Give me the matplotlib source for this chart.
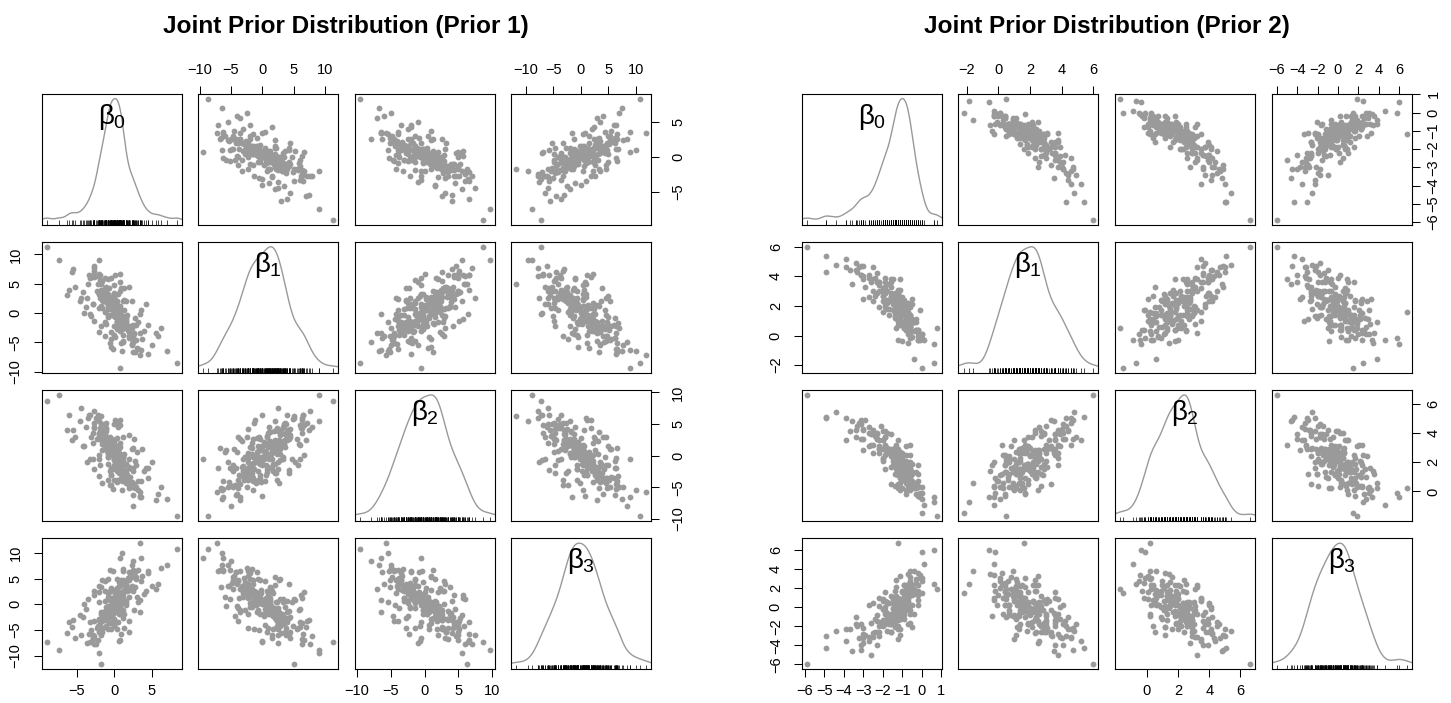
import numpy as np
import matplotlib.pyplot as plt

plt.rcParams['font.family'] = ['Liberation Sans', 'DejaVu Sans']
plt.rcParams['mathtext.fontset'] = 'custom'
plt.rcParams['mathtext.rm'] = 'Liberation Sans'
plt.rcParams['mathtext.it'] = 'Liberation Sans'

# Prior 1 draws (values estimated from the scatter panels)
p1_b0 = [0.3, 0.9, -1.9, 1.0, -1.7, -0.8, 0.4, 0.8, 2.6, -1.8,
         1.5, 0.1, -0.4, -0.4, -2.2, 0.6, -1.8, 2.5, -0.5, 0.0,
         -2.1, 2.5, -0.4, 3.2, 0.6, -1.3, -0.5, -2.2, 1.5, 0.3,
         -0.1, -0.6, 1.1, 0.0, 1.1, -0.9, -3.4, 1.3, -0.6, 1.1,
         -1.7, 1.5, -0.4, -1.3, -1.1, -0.1, 2.5, -0.3, 0.6, -2.8,
         1.1, -0.9, 1.1, -0.5, 1.0, -0.1, 0.5, -2.0, 0.4, -1.8,
         2.0, 0.2, -0.8, -0.5, -1.9, 2.0, 0.1, 0.6, 0.2, 2.9,
         -1.1, 0.8, -1.1, 0.3, 0.6, -2.7, 0.8, -1.2, 1.1, -0.8,
         0.6, -1.1, 2.3, -1.1, -0.3, -0.2, -2.3, 2.3, -0.6, 2.1,
         -2.5, 1.2, -0.2, 1.1, -0.2, 2.4, -1.8, -0.8, 0.4, 1.8,
         -0.7, 0.4, -0.5, -1.3, 0.0, -0.1, 2.0, -1.5, 0.4, 1.5,
         -0.8, 0.4, -0.8, 0.6, -1.6, 0.5, 0.2, 1.7, -1.4, 0.1,
         -2.0, 0.8, 0.1, -2.7, 0.4, -1.0, 0.4, 3.6, -0.9, 0.6,
         -0.3, 1.7, 0.0, -1.1, 1.1, -0.3, 1.8, -0.7, 0.1, -1.1,
         1.1, -0.8, 1.5, -0.5, -0.1, -1.3, 1.5, -0.8, 0.9, -0.4,
         -9.0, 8.3, -7.4, 3.4, -1.8, 0.7, 7.0, -5.5, 5.5, -4.5, 4.5, -2.0, 2.5, -6.0, 1.0,
         1.1, -0.9, 0.8, -0.4, 1.9, -2.7, 2.4, -3.2, -1.7, 0.6,
         2.5, -1.9, -0.6, 0.1, -1.8, 3.4, 0.4, -1.6, 1.3, -0.4,
         2.0, -2.0, -0.5, 0.5, -2.7, 2.0, -1.2, 0.7, -0.2, 0.9,
         -0.8, 0.8, 1.3, -2.8, 2.7, -2.0, -2.1, 2.6, 0.5, 0.0,
         -1.4, 1.3, 0.7, -0.6, -0.1, 0.1, -0.9, 0.9, 1.2, -1.2,
         -1.7, 1.7, -1.3, 1.3, -0.8, 0.8, -2.7, 2.7, 0.1, -0.1,
         4.0, -4.2, 3.5, -3.8, 5.0, -5.2, 3.2, -3.3, 4.5, -4.6, 3.0, -3.1,
         5.8, -5.6, 3.7, -3.6, 4.2, -4.0, 3.4, -3.5, 6.2, -6.3, 2.9, -2.9]
p1_b1 = [-0.8, -1.5, 2.5, -2.8, 5.5, 1.7, -0.7, 3.7, -3.5, 1.0,
         -0.7, 0.9, 1.7, -3.3, 6.5, 0.8, 1.2, -4.7, 6.0, 0.5,
         0.8, -2.0, 2.5, -6.2, -2.2, 4.0, 1.0, 4.9, -1.0, -0.9,
         -0.2, 2.8, -1.7, 2.7, -3.7, 3.3, 6.5, 0.5, 0.7, -4.9,
         2.2, 2.0, -0.4, 4.2, -1.9, 2.9, -4.2, -0.4, -0.4, 6.4,
         -2.2, 0.6, -1.9, 1.4, -1.4, 3.4, -1.5, 3.3, -2.3, 3.8,
         -3.1, 1.0, 2.5, 0.6, 6.4, -3.9, 2.2, -2.8, 0.5, -4.6,
         4.5, 0.1, 1.9, -0.2, -1.7, 8.0, 1.2, 0.2, -4.7, 2.8,
         -1.1, 3.6, -5.3, 2.4, 1.6, 0.8, 3.8, -2.6, 1.3, -2.2,
         6.3, -0.5, 1.2, -0.6, 2.3, -5.4, 4.0, -0.7, 2.0, -2.2,
         4.2, -1.5, 1.0, 6.0, -2.2, 3.3, -4.2, 2.1, 0.0, -1.4,
         3.1, 1.4, 1.0, -2.2, 3.7, -0.6, 0.0, -2.8, 3.0, -0.7,
         3.2, -3.0, 1.2, 7.7, -2.8, 1.8, -1.6, -6.3, 2.3, -0.1,
         1.9, -2.3, 1.9, 2.3, -1.0, 0.6, -2.9, 2.6, 0.7, 3.6,
         -1.0, 0.9, -1.6, 2.2, 0.2, 3.6, -2.3, 1.4, -0.6, 1.5,
         11.3, -8.6, 9.0, -7.2, 5.0, -9.4, -6.5, 7.5, -3.5, 2.5, -7.0, 9.0, -5.0, 4.0, -6.5,
         -2.5, 2.4, 5.3, -5.8, 4.5, -1.3, 2.0, -0.1, 2.6, 0.0,
         -6.7, 5.7, -5.1, 6.4, -2.2, -0.1, -1.3, 3.5, 4.2, -4.4,
         -3.2, 3.6, 1.7, -0.9, 6.2, -3.9, -3.9, 6.6, -6.2, 4.3,
         2.9, -1.1, 2.2, 1.5, -0.9, -3.2, 6.6, -3.6, 3.3, -3.8,
         2.5, -2.1, -1.6, 1.7, 4.7, -4.1, 5.8, -5.2, 2.1, -1.5,
         0.9, -0.3, 2.8, -2.2, -0.3, 0.9, 7.2, -6.6, 0.0, 0.6,
         -3.0, 3.5, 0.5, 1.0, -5.5, 4.5, -1.5, 6.0, -2.0, 2.0, -6.0, -0.5,
         -4.0, 7.0, -4.5, 2.5, 1.5, 0.0, -3.5, 5.0, -2.5, 3.0, -2.0, 1.5]
p1_b2 = [2.8, -3.5, 3.9, -0.3, 2.6, -1.4, -3.9, 1.3, -4.5, 3.7,
         -2.4, -1.8, 0.6, 2.3, 6.5, -2.6, 3.8, -2.4, 1.7, 0.7,
         3.1, -2.0, -2.2, -4.0, 0.4, 4.0, -1.9, 5.8, -4.4, 0.6,
         0.9, 1.0, -3.2, 2.5, -3.1, -0.2, 6.5, 0.3, 2.9, -2.2,
         0.9, -1.4, -3.1, 3.4, 1.4, -0.7, -6.3, 2.6, -1.3, 3.5,
         -0.4, 1.7, -1.4, 1.9, -4.0, 5.0, -1.1, -0.6, -1.0, 5.0,
         -0.5, -0.6, 1.8, -3.1, 4.3, -5.2, 1.6, -0.2, 0.3, -4.9,
         4.2, -0.3, 3.9, -4.2, 1.2, 4.6, 0.1, 2.2, -1.5, 0.2,
         -1.0, 5.2, -4.1, 1.3, 1.6, -2.2, 2.7, -2.1, 0.1, -3.4,
         5.9, -1.1, 2.3, -0.3, 0.2, -5.0, 2.4, 1.5, 0.8, -3.9,
         2.7, -0.2, 2.2, 4.9, -2.0, 2.3, -2.0, 2.4, 0.9, -1.4,
         1.6, 0.2, 2.1, -2.8, 5.0, 0.7, -1.3, -3.1, 1.6, -0.7,
         3.5, -1.6, -0.3, 7.0, -2.5, 0.8, 0.2, -6.5, 2.2, -1.5,
         1.1, -3.0, 1.5, 4.3, -0.9, 0.5, -3.8, 1.8, -0.3, 2.4,
         -0.1, 1.3, -2.7, 1.7, -0.6, 2.5, -3.5, 1.5, -0.9, 0.9,
         8.6, -9.6, 9.6, -5.7, 6.2, -0.6, -6.8, 4.0, -7.0, 7.5, -2.0, 5.5, -8.0, 6.5, -5.5,
         3.0, -3.9, -1.0, 0.9, 3.2, -2.2, 1.0, 6.4, -4.3, -0.7,
         1.2, -1.5, -4.6, 5.6, 4.2, -6.4, 5.1, 1.8, -2.8, -4.7,
         -1.8, 3.4, 0.6, -0.8, 4.4, -4.6, 2.9, 4.9, -5.3, -2.3,
         1.5, 5.6, -2.8, -0.5, -0.8, -3.2, 0.1, 2.6, 4.6, -3.8,
         2.3, -2.3, 2.0, -2.4, -0.6, 0.6, 1.9, -1.9, -2.7, 2.7,
         3.5, -3.5, 3.3, -3.3, -0.3, 0.3, 5.1, -5.1, 1.5, -1.5,
         -2.5, 1.5, -4.0, 4.5, -1.0, 3.0, -5.5, -0.5, -3.5, 5.5, 0.5, 3.0,
         -6.0, 2.5, 1.0, -1.0, -2.0, 1.5, -6.5, 6.0, -5.0, 4.0, -1.5, 2.0]
p1_b3 = [0.1, 4.8, -2.8, -1.1, -4.8, 2.2, 5.0, -0.6, 6.4, -1.8,
         0.3, 1.8, -4.9, 3.2, -7.0, 0.9, 3.3, 3.0, -1.0, -4.1,
         -5.4, 2.5, -0.7, 6.6, -1.9, 0.7, 2.5, -4.2, -0.2, -1.4,
         2.7, -3.6, 6.8, -3.1, 1.2, 1.0, -5.8, -1.9, 2.5, 4.2,
         -2.9, 3.7, 0.6, -1.3, -0.5, -4.2, 6.2, -1.9, 1.2, -6.8,
         6.4, -1.9, 0.2, -0.4, 3.9, -3.8, 1.8, 0.5, 2.0, -6.0,
         1.5, -0.2, -4.8, 1.2, -3.7, 4.8, 0.5, 4.4, -0.9, 5.3,
         -2.5, -1.8, -1.7, 2.2, 0.2, -6.1, 0.8, -2.3, 4.7, 1.0,
         0.8, -2.7, 3.5, -2.6, -1.7, -0.6, -4.6, 3.1, 1.3, 5.6,
         -7.7, 1.4, -1.8, -1.2, 0.5, 7.7, -1.4, -1.4, -1.0, 2.9,
         -2.6, 1.4, -1.6, -4.4, 1.3, -2.9, 6.3, -2.3, 0.4, 0.6,
         -1.9, 3.1, -0.4, 3.5, -5.3, 0.6, 0.8, 2.6, -2.9, 1.5,
         -2.8, 3.5, 0.5, -7.8, 2.2, -0.8, -0.6, 9.0, -0.9, 0.5,
         -1.2, 3.3, -1.3, -4.2, 2.3, -0.5, 5.2, -1.4, -0.1, -2.8,
         2.0, -0.7, 2.9, -1.3, 0.4, -3.0, 4.0, -0.6, 1.8, -1.2,
         -7.3, 10.8, -8.9, 11.9, -11.7, 9.0, 7.6, -3.0, 3.0, -6.0, 6.5, -9.5, 8.5, -3.5, 10.0,
         4.0, -3.2, 0.8, -0.4, -5.3, 2.6, 5.3, -7.3, 4.7, -7.1,
         6.6, -4.7, 6.7, 1.2, -4.6, 0.8, -4.9, -3.3, 3.9, -2.3,
         2.8, -3.1, -0.7, 0.9, 1.9, -3.2, 4.6, -6.9, 6.5, -5.8,
         4.9, 1.9, -4.7, -6.5, 6.2, 3.5, 2.3, -1.2, -3.5, -0.7,
         -2.2, 2.5, 2.3, -2.3, 0.4, -0.4, -1.1, 1.1, -2.6, 2.6,
         -4.7, 4.7, -2.8, 2.8, 1.4, -1.4, -3.3, 3.3, 0.7, -0.7,
         2.0, -2.5, 4.5, -1.0, 3.5, -6.5, 0.5, -3.5, 6.0, -2.0, 1.5, -5.0,
         4.0, -4.5, 5.5, -7.5, 2.5, 0.0, -1.5, 1.0, 7.0, -5.5, 5.0, -6.0]

# Prior 2 draws
p2_b0 = [-1.1, -0.7, -1.4, -1.2, -2.2, -0.8, -0.6, -1.5, -0.3, -2.2,
         -0.9, -0.8, -1.2, -0.9, -3.0, -0.7, -1.7, -0.2, -1.8, -1.1,
         -1.8, -0.8, -1.3, 0.0, -1.3, -2.0, -1.0, -2.6, -0.4, -1.2,
         -0.8, -1.7, -0.6, -1.6, -0.5, -1.4, -3.3, -0.7, -1.3, -0.6,
         -2.0, -0.5, -1.1, -1.9, -1.2, -1.2, 0.0, -1.4, -0.9, -2.7,
         -0.6, -1.5, -0.6, -1.4, -0.6, -1.6, -0.8, -1.9, -0.9, -2.4,
         -0.2, -1.0, -1.6, -1.2, -2.3, -0.2, -1.0, -0.8, -1.0, -0.2,
         -2.3, -0.6, -1.9, -0.8, -1.1, -3.0, -0.7, -1.7, -0.7, -1.6,
         -0.8, -2.0, -0.2, -1.4, -1.4, -1.1, -2.2, -0.3, -1.4, -0.3,
         -3.0, -0.8, -1.4, -0.5, -1.1, -0.1, -2.5, -1.1, -1.2, -0.8,
         -1.6, -0.9, -1.5, -2.4, -0.6, -1.2, -0.2, -1.8, -1.2, -0.6,
         -2.0, -0.9, -1.3, -0.4, -2.3, -0.8, -1.3, -0.6, -1.9, -0.9,
         -1.9, -0.7, -1.1, -3.2, -0.7, -1.5, -0.9, 0.1, -1.8, -1.0,
         -1.2, -0.3, -1.4, -1.9, -0.6, -1.0, -0.6, -1.5, -0.9, -1.8,
         -0.5, -1.2, -0.8, -1.4, -0.8, -2.0, -0.4, -1.4, -0.7, -1.3,
         -5.88, -1.2, 0.6, 0.0, 0.0, 0.65, -4.9, -4.9, -4.4, -3.9, -3.6, -3.4, -2.9, -3.1,
         -2.7, 0.77, -0.4, -2.6,
         -0.8, -1.4, -1.5, -1.0, -2.7, -3.0, -2.3, -3.4, -2.5, -3.7,
         -1.9, -0.6, -1.2, -1.1, -1.6, -0.6, -1.9, -0.1, -1.8, -1.0,
         -2.2, -0.6, -1.1, -1.2, -2.1, -2.5, -1.6, -0.6, -2.0, -3.9,
         -1.4, -1.0, -1.2, -0.8, -3.1, -2.2, -3.1, -1.3, -1.1, -2.0]
p2_b1 = [1.5, 1.5, 2.0, 2.3, 3.6, 1.1, 0.6, 2.5, 0.4, 1.9,
         2.4, 0.9, 1.3, 2.3, 3.8, 1.4, 1.8, 0.0, 3.5, 1.3,
         1.8, 1.4, 2.7, 0.1, 0.5, 3.2, 1.9, 3.6, 0.3, 1.0,
         1.4, 2.3, 0.9, 2.6, -0.1, 2.9, 4.3, 1.9, 1.7, -0.2,
         2.7, 2.5, 1.5, 3.3, 0.7, 2.9, 0.1, 1.3, 1.4, 3.9,
         0.8, 1.7, 0.7, 2.3, 1.4, 2.9, 1.1, 2.9, 0.5, 2.7,
         0.4, 2.0, 2.4, 1.9, 4.2, 0.4, 2.6, 0.4, 1.8, -0.3,
         3.6, 1.9, 2.1, 1.7, 0.7, 4.7, 2.2, 1.4, -0.5, 2.7,
         1.4, 2.7, -0.3, 2.5, 2.0, 2.4, 3.0, 0.4, 2.4, 1.1,
         4.0, 1.0, 1.5, 2.1, 3.1, -0.3, 3.0, 1.1, 2.5, 1.0,
         3.6, 0.5, 2.1, 3.9, 0.6, 3.1, 0.2, 2.4, 1.4, 1.3,
         2.3, 2.2, 1.6, 0.9, 2.9, 1.2, 1.3, 0.7, 2.9, 1.5,
         3.0, 0.1, 2.2, 4.6, 0.3, 2.3, 0.7, -0.3, 2.2, 1.7,
         2.6, 0.9, 2.4, 1.9, 1.4, 1.6, 1.1, 2.6, 2.1, 3.0,
         1.1, 2.0, 1.3, 2.4, 1.8, 3.0, 0.9, 2.0, 1.6, 2.0,
         6.0, 1.6, -0.6, -0.2, -2.2, -1.85, 5.4, 4.3, 4.8, 5.2, 3.5, 4.4, 3.3, 4.1,
         2.6, 0.5, -1.6, 3.8,
         0.8, 2.7, 3.8, -0.4, 4.1, 2.5, 3.6, 4.9, 2.3, 4.4,
         3.6, 0.3, 1.0, 2.5, 3.3, 0.2, 3.9, 1.7, 2.3, 0.9,
         3.4, 1.2, 3.8, -0.3, 3.0, 4.6, 3.8, 0.6, 1.6, 4.6,
         1.2, 2.3, 2.8, 0.4, 4.1, 3.6, 4.7, 2.3, 1.1, 3.0]
p2_b2 = [2.6, 0.4, 3.0, 1.3, 2.6, 1.5, 2.0, 2.3, -0.2, 3.1,
         1.0, 1.3, 2.6, 1.0, 4.2, 1.5, 2.8, 0.7, 2.6, 2.0,
         3.0, 0.9, 1.2, 0.3, 2.2, 3.5, 0.8, 3.9, 0.2, 2.2,
         2.1, 2.7, 0.2, 2.8, 0.7, 1.9, 4.5, 1.9, 3.2, 0.9,
         2.2, 1.3, 0.6, 3.1, 2.2, 1.6, -0.5, 2.9, 1.1, 3.1,
         1.6, 2.6, 1.2, 2.8, 0.1, 3.9, 1.5, 1.5, 1.3, 3.8,
         1.8, 1.4, 2.4, 0.5, 3.6, -0.3, 2.6, 1.8, 1.9, 0.3,
         3.6, 1.9, 3.7, -0.2, 2.4, 3.6, 1.9, 2.9, 1.4, 1.7,
         1.1, 4.1, 0.4, 2.1, 2.5, 0.9, 2.9, 1.3, 1.9, 0.2,
         4.3, 1.7, 3.0, 1.2, 1.7, -0.4, 2.6, 2.7, 2.3, 0.1,
         2.9, 2.0, 2.5, 3.9, 0.8, 2.9, 1.2, 2.7, 2.3, 1.3,
         2.3, 2.0, 3.0, 0.6, 4.0, 2.0, 1.5, 0.3, 2.9, 1.3,
         3.2, 1.1, 1.6, 4.7, 0.6, 2.1, 2.0, -0.9, 2.7, 0.9,
         2.4, 0.5, 2.5, 3.7, 1.5, 1.8, 0.4, 2.6, 1.7, 2.8,
         1.9, 2.5, 0.6, 2.6, 1.5, 2.9, 0.3, 2.5, 1.5, 2.4,
         6.6, 0.2, -0.35, -0.1, -1.5, -0.7, 5.1, 5.0, 5.4, 3.5, 4.8, 4.2, 4.9, 3.6,
         4.4, -1.7, 0.6, 3.2,
         3.1, 0.4, 1.8, 1.8, 4.0, 2.8, 3.9, 3.7, 4.2, 4.1,
         2.5, 2.5, 3.5, 0.1, 0.5, 3.2, 4.1, -0.1, 4.0, 0.2,
         2.9, 1.5, 2.3, 2.0, 4.5, 3.2, 2.6, 1.0, 3.5, 5.0,
         1.2, 2.3, 1.1, 2.5, 4.6, 3.5, 4.9, 2.4, 1.2, 2.1]
p2_b3 = [0.2, 2.4, -1.7, -1.3, -2.0, 1.8, 1.4, 0.5, 2.6, 0.1,
         -1.2, 1.2, -2.0, 2.3, -2.8, 0.1, 0.5, 1.3, -0.6, -2.3,
         -2.5, 1.3, 0.1, 3.1, -1.0, 0.7, 1.6, -1.6, -0.7, -0.8,
         2.2, -1.3, 3.8, -1.7, 0.3, 0.8, -2.0, -1.7, 2.1, 1.7,
         -2.0, 2.4, 0.3, -0.3, -0.5, -2.3, 2.8, -0.9, 0.7, -3.1,
         3.2, -1.0, -0.3, -0.1, 1.6, -1.8, 0.7, 0.7, 1.2, -2.6,
         0.2, -0.1, -2.6, 0.6, -1.4, 1.7, 0.6, 2.4, -0.5, 2.4,
         -0.8, -1.6, -0.5, 1.0, 0.3, -2.2, 0.7, -1.7, 3.5, 1.2,
         -0.3, -0.2, 0.8, -1.4, -0.8, -1.0, -2.6, 1.6, 1.7, 3.0,
         -3.2, 0.7, -0.5, -2.1, 0.9, 3.4, 0.5, -1.2, 0.0, 0.9,
         -1.3, 0.9, -1.5, -1.2, 0.3, -2.2, 3.6, -1.1, 0.5, -0.7,
         -0.2, 2.3, 0.6, 1.8, -2.6, 0.2, 1.2, 0.2, -1.6, 0.8,
         -0.7, 2.0, 0.7, -3.2, 1.0, -0.1, -0.8, 4.6, 0.6, 0.0,
         -0.7, 1.4, -0.5, -1.8, 1.3, -0.4, 2.2, -0.2, -0.5, -0.9,
         1.3, -0.3, 1.4, -0.3, 0.2, -1.3, 1.9, -0.1, 1.0, -0.5,
         -6.0, 6.75, 6.0, 5.8, 1.5, 2.5, -4.3, -3.0, -2.5, -3.5, -4.6, -1.0, -2.9, -4.0,
         -3.5, 1.9, 3.8, -5.0,
         1.9, -2.0, 0.9, -0.9, 0.2, -3.7, -4.0, -1.8, -2.7, -2.3,
         1.6, 2.5, -3.3, 3.3, -2.6, 2.4, 0.0, 3.1, 0.5, -0.9,
         -3.0, 2.7, -1.2, 1.0, -1.5, -3.1, -0.7, 2.8, 0.9, -2.3,
         -2.1, 1.7, -0.3, 0.3, -1.8, 1.0, -4.5, 2.9, -2.9, -1.9]

var_labels = [r'$\beta_0$', r'$\beta_1$', r'$\beta_2$', r'$\beta_3$']
p1_ticks = [[-5, 0, 5], [-10, -5, 0, 5, 10], [-10, -5, 0, 5, 10], [-10, -5, 0, 5, 10]]
p2_ticks = [[-6, -5, -4, -3, -2, -1, 0, 1], [-2, 0, 2, 4, 6], [0, 2, 4, 6], [-6, -4, -2, 0, 2, 4, 6]]
titles = ['Joint Prior Distribution (Prior 1)', 'Joint Prior Distribution (Prior 2)']

W, H = 1451, 703
fig = plt.figure(figsize=(W / 100, H / 100), dpi=100)

col_left = [[41.7, 198.2, 354.7, 511.2], [802.0, 958.4, 1115.0, 1271.7]]
row_top = [93.7, 241.9, 390.1, 538.3]
pw, ph = 140, 131
title_x = [346, 1107]
point_gray = '#9a9a9a'


def kde(v):
    # gaussian density with R's default bandwidth rule
    v = np.asarray(v, dtype=float)
    n = len(v)
    iqr = np.subtract(*np.percentile(v, [75, 25]))
    bw = 0.9 * min(v.std(ddof=1), iqr / 1.34) * n ** -0.2
    grid = np.linspace(v.min() - 3 * bw, v.max() + 3 * bw, 512)
    dens = np.exp(-0.5 * ((grid[:, None] - v[None, :]) / bw) ** 2).sum(axis=1)
    return grid, dens / (n * bw * np.sqrt(2 * np.pi))


def padded(v):
    lo, hi = min(v), max(v)
    return lo - 0.04 * (hi - lo), hi + 0.04 * (hi - lo)


def pairs(k, cols, ticks, right_pad):
    lims = [padded(c) for c in cols]
    for i in range(4):
        for j in range(4):
            ax = fig.add_axes([col_left[k][j] / W, 1 - (row_top[i] + ph) / H, pw / W, ph / H])
            for sp in ax.spines.values():
                sp.set_linewidth(0.8)
            ax.tick_params(which='both', bottom=False, top=False, left=False, right=False,
                           labelbottom=False, labeltop=False, labelleft=False, labelright=False,
                           length=5.8, width=0.75, labelsize=10.5)
            ax.set_xticks(ticks[j])
            if i == j:
                gx, gy = kde(cols[i])
                ax.plot(gx, gy, color='#999999', lw=1)
                ax.vlines(cols[i], 0, 0.035, transform=ax.get_xaxis_transform(),
                          colors='black', lw=0.5)
                span = gy.max() - gy.min()
                ax.set_ylim(gy.min() - 0.04 * span, gy.max() + 0.04 * span)
                ax.set_yticks([])
                ax.text(0.5, 0.825, var_labels[i], transform=ax.transAxes,
                        ha='center', va='center', fontsize=20)
            else:
                ax.plot(cols[j], cols[i], 'o', ms=4.2, color=point_gray, mec='none')
                ax.set_yticks(ticks[i])
                ax.set_ylim(lims[i])
            ax.set_xlim(lims[j])

            if i == 0 and j % 2 == 1:
                ax.tick_params(axis='x', top=True, labeltop=True, pad=6.5)
            if i == 3 and j % 2 == 0:
                ax.tick_params(axis='x', bottom=True, labelbottom=True, pad=4.7)
            if j == 0 and i % 2 == 1:
                ax.tick_params(axis='y', left=True, labelleft=True, pad=8, labelrotation=90)
            if j == 3 and i % 2 == 0:
                ax.tick_params(axis='y', right=True, labelright=True, pad=right_pad,
                               labelrotation=90)
            for lab in ax.get_yticklabels():
                lab.set_va('center')
    fig.text(title_x[k] / W, 1 - 32.5 / H, titles[k], ha='center', va='baseline',
             fontsize=17.6, fontweight='bold')


pairs(0, [p1_b0, p1_b1, p1_b2, p1_b3], p1_ticks, 8.5)
pairs(1, [p2_b0, p2_b1, p2_b2, p2_b3], p2_ticks, 5)

fig.savefig('out.png', dpi=100)
